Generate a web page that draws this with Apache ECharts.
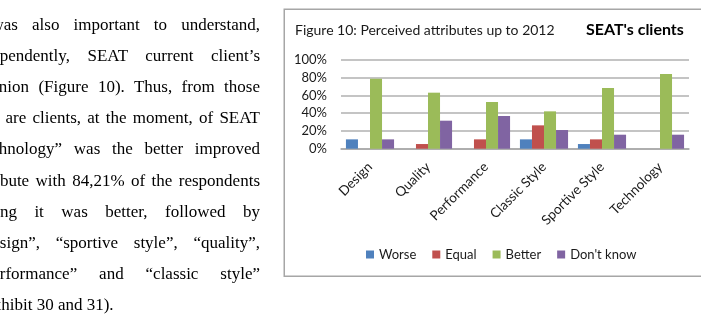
<!DOCTYPE html>
<html>
<head>
<meta charset="utf-8">
<script src="https://cdn.jsdelivr.net/npm/echarts@6/dist/echarts.min.js"></script>
<style>
html,body{margin:0;padding:0;background:#fff;}
#wrap{position:relative;width:701px;height:314px;overflow:hidden;}
#chart{position:absolute;left:0;top:0;width:701px;height:314px;}
#text{position:absolute;left:0;top:0;width:260px;height:314px;font-family:"Liberation Serif","Times New Roman",serif;font-size:17px;color:#000;}
#text div{position:absolute;text-align:justify;text-align-last:justify;line-height:20px;white-space:normal;}
#text div.last{text-align:left;text-align-last:left;}
</style>
</head>
<body>
<div id="wrap">
<div id="chart"></div>
<div id="text"></div>
</div>
<script>
const categories = ['Design','Quality','Performance','Classic Style','Sportive Style','Technology'];
const worse    = [10.53, 0, 0, 10.53, 5.26, 0];
const equal    = [0, 5.26, 10.53, 26.32, 10.53, 0];
const better   = [78.95, 63.16, 52.63, 42.11, 68.42, 84.21];
const dontKnow = [10.53, 31.58, 36.84, 21.05, 15.79, 15.79];
const seriesNames = ['Worse','Equal','Better',"Don't know"];
const yTicks = [0, 20, 40, 60, 80, 100];
const bodyLines = [
  'It was also important to understand,',
  'independently, SEAT current client\u2019s',
  'opinion (Figure 10). Thus, from those',
  'who are clients, at the moment, of SEAT',
  '\u201ctechnology\u201d was the better improved',
  'attribute with 84,21% of the respondents',
  'saying it was better, followed by',
  '\u201cdesign\u201d, \u201csportive style\u201d, \u201cquality\u201d,',
  '\u201cperformance\u201d and \u201cclassic style\u201d',
  '(exhibit 30 and 31).'
];
// how far each line of the (cropped) page column sits left of the picture edge
const lineCrop = [33, 29.5, 23, 30, 28.5, 27.5, 27.5, 23.8, 23.8, 20.5];

const textBox = document.getElementById('text');
bodyLines.forEach((l, i) => {
  const d = document.createElement('div');
  d.textContent = l;
  d.style.top = (15 + i * 31.1) + 'px';
  d.style.left = (-lineCrop[i]) + 'px';
  d.style.width = (260 + lineCrop[i]) + 'px';
  if (i === bodyLines.length - 1) d.className = 'last';
  textBox.appendChild(d);
});

const colors = ['#4F81BD','#C0504D','#9BBB59','#8064A2'];
const chart = echarts.init(document.getElementById('chart'), null, {renderer:'canvas'});
const font = 'Lato, "Open Sans", sans-serif';
chart.setOption({
  animation: false,
  color: colors,
  graphic: [
    {type:'rect', left:283.5, top:8.5, shape:{width:440, height:267}, style:{fill:'#fff', stroke:'#a6a6a6', lineWidth:1.5}, z:-10},
    {type:'text', left:295, top:23, style:{text:'Figure 10: Perceived attributes up to 2012', font:'14px ' + font, fill:'#1a1a1a'}},
    {type:'text', left:586, top:22, style:{text:"SEAT's clients", font:'bold 16px ' + font, fill:'#000'}}
  ],
  grid: {left:341, right:12, top:60, bottom:165.3, containLabel:false},
  legend: {
    top: 243, left: 361, itemWidth: 8, itemHeight: 8, itemGap: 16,
    icon: 'rect',
    textStyle: {fontFamily: font, fontSize: 13, color:'#1a1a1a'},
    data: seriesNames
  },
  xAxis: {
    type:'category', data: categories,
    axisTick:{show:false},
    axisLine:{lineStyle:{color:'#a6a6a6', width:1.5}},
    axisLabel:{rotate:45, fontFamily:font, fontSize:13.5, color:'#1a1a1a', margin:16, interval:0}
  },
  yAxis: {
    type:'value', min:yTicks[0], max:yTicks[yTicks.length-1], interval:20,
    axisLine:{show:false}, axisTick:{show:false},
    splitLine:{lineStyle:{color:'#b0b0b0', width:1.5}},
    axisLabel:{formatter:'{value}%', fontFamily:font, fontSize:13, color:'#1a1a1a', margin:14}
  },
  series: [
    {name:seriesNames[0], type:'bar', data:worse, barGap:'0%', barCategoryGap:'17%'},
    {name:seriesNames[1], type:'bar', data:equal, barGap:'0%', barCategoryGap:'17%'},
    {name:seriesNames[2], type:'bar', data:better, barGap:'0%', barCategoryGap:'17%'},
    {name:seriesNames[3], type:'bar', data:dontKnow, barGap:'0%', barCategoryGap:'17%'}
  ]
});
</script>
</body>
</html>
